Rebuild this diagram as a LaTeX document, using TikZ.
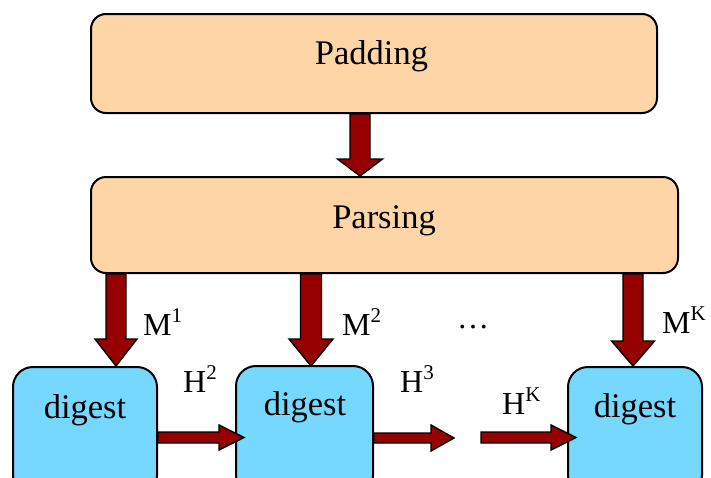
\documentclass[tikz,border=0pt]{standalone}
\usepackage{fontspec}
\setmainfont{Liberation Serif}
\usetikzlibrary{calc}

\definecolor{peach}{RGB}{254,213,167}
\definecolor{skyblue}{RGB}{118,215,255}
\definecolor{arrowred}{RGB}{150,0,0}

% raised, smaller index after a label letter
\newcommand\supr[1]{\raisebox{13pt}{\fontsize{21}{21}\selectfont #1}}

% block arrow pointing down: start, tip, shaft half-width, head half-width, head length
\newcommand\blockdown[5]{%
  \draw[blockarrow] ($(#1)+(-#3,0)$) -- ($(#1)+(#3,0)$) -- ($(#2)+(#3,#5)$)
    -- ($(#2)+(#4,#5)$) -- (#2) -- ($(#2)+(-#4,#5)$) -- ($(#2)+(-#3,#5)$) -- cycle;}
% block arrow pointing right: start, tip, shaft half-width, head half-width, head length
\newcommand\blockright[5]{%
  \draw[blockarrow] ($(#1)+(0,#3)$) -- ($(#2)+(-#5,#3)$) -- ($(#2)+(-#5,#4)$)
    -- (#2) -- ($(#2)+(-#5,-#4)$) -- ($(#2)+(-#5,-#3)$) -- ($(#1)+(0,-#3)$) -- cycle;}

\tikzset{
  stagebox/.style={draw=black, line width=2pt, fill=peach, rounded corners=15pt,
    inner sep=0pt},
  digestbox/.style={draw=black, line width=2pt, fill=skyblue, rounded corners=20pt,
    inner sep=0pt},
  boxtext/.style={anchor=base, inner sep=0pt, font=\fontsize{34.5}{40}\selectfont},
  labeltext/.style={anchor=base west, inner sep=0pt, font=\fontsize{32}{38}\selectfont},
  blockarrow/.style={draw=black, line width=1.4pt, fill=arrowred, line join=miter},
}

\begin{document}
\begin{tikzpicture}[x=1pt, y=-1pt]
  \useasboundingbox (0,0) rectangle (711,477);
  \clip (0,0) rectangle (711,477);

  % stage boxes
  \node[stagebox, minimum width=566pt, minimum height=99pt] (pad) at (374,63.5) {};
  \node[boxtext] (padtext) at (371.5,64) {Padding};
  \node[stagebox, minimum width=587pt, minimum height=96pt] (parse) at (384.5,225) {};
  \node[boxtext] (parsetext) at (384,228) {Parsing};

  % digest boxes (running past the lower edge)
  \node[digestbox, minimum width=144pt, minimum height=128pt] (d1) at (85,431) {};
  \node[boxtext] (d1text) at (85,418) {digest};
  \node[digestbox, minimum width=137pt, minimum height=129pt] (d2) at (304.5,430.5) {};
  \node[boxtext] (d2text) at (305,415) {digest};
  \node[digestbox, minimum width=134pt, minimum height=128pt] (d3) at (635,431) {};
  \node[boxtext] (d3text) at (635,417) {digest};

  % arrow ends
  \coordinate (padout) at ([xshift=-14pt]pad.south);
  \coordinate (parsein) at ([xshift=-24.5pt]parse.north);
  \coordinate (m1tip) at ([xshift=31pt]d1.north);
  \coordinate (m2tip) at ([xshift=6.5pt,yshift=-1pt]d2.north);
  \coordinate (mktip) at ([xshift=-2pt]d3.north);
  \coordinate (h1s) at ([yshift=-6.5pt]d1.east);
  \coordinate (h1t) at ($(d2.west |- h1s)+(9pt,0)$);
  \coordinate (h2s) at ([yshift=-7.5pt]d2.east);
  \coordinate (h2t) at ($(h2s)+(80pt,0)$);
  \coordinate (h3t) at ($(d3.west |- h1s)+(9pt,0)$);
  \coordinate (h3s) at ($(h3t)+(-95pt,0)$);

  % arrows
  \blockdown{padout}{parsein}{10pt}{22.5pt}{17pt}
  \blockdown{parse.south -| m1tip}{m1tip}{10pt}{21pt}{27pt}
  \blockdown{parse.south -| m2tip}{m2tip}{10.5pt}{22pt}{27pt}
  \blockdown{parse.south -| mktip}{mktip}{10pt}{21.5pt}{25pt}
  \blockright{h1s}{h1t}{5.5pt}{12.5pt}{25pt}
  \blockright{h2s}{h2t}{5pt}{13pt}{23pt}
  \blockright{h3s}{h3t}{5.5pt}{12.5pt}{25pt}

  % labels
  \node[labeltext] (lm1) at (143,335) {M\supr{1}};
  \node[labeltext] (lm2) at (342,335) {M\supr{2}};
  \node[labeltext] (lmk) at (662,333) {M\supr{K}};
  \node[labeltext] (lh2) at (183,392) {H\supr{2}};
  \node[labeltext] (lh3) at (400,392) {H\supr{3}};
  \node[labeltext] (lhk) at (502,414) {H\supr{K}};
  \node[labeltext] (dots) at (457,328) {…};
\end{tikzpicture}
\end{document}
